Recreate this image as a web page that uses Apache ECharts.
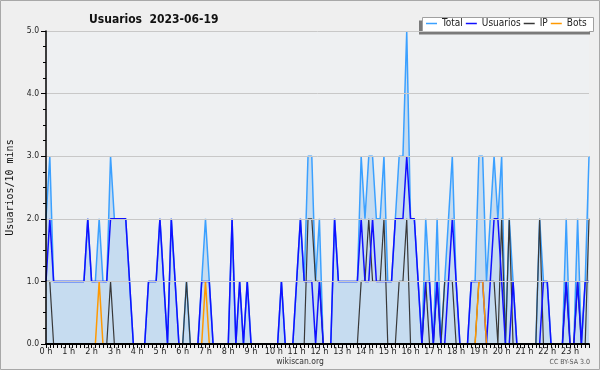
<!DOCTYPE html>
<html><head><meta charset="utf-8">
<script src="https://cdn.jsdelivr.net/npm/echarts@6.0.0/dist/echarts.min.js"></script>
<style>html,body{margin:0;padding:0;background:#efefef}#c{width:600px;height:370px}</style>
</head><body><div id="c"></div>
<script>
// 10-minute slots, 2023-06-19 (rows of 12 = 2 hours)
const hourLabels = ['0 h','1 h','2 h','3 h','4 h','5 h','6 h','7 h','8 h','9 h','10 h','11 h',
  '12 h','13 h','14 h','15 h','16 h','17 h','18 h','19 h','20 h','21 h','22 h','23 h'];
const total = [
  2,3,1,1,1,1,1,1,1,1,1,2,
  1,1,2,1,1,3,2,2,2,2,1,0,
  0,0,0,1,1,1,2,1,0,2,1,0,
  0,1,0,0,0,1,2,1,0,0,0,0,
  0,2,0,1,0,1,0,0,0,0,0,0,
  0,0,1,0,0,0,1,2,1,3,3,1,
  2,0,0,0,2,1,1,1,1,1,1,3,
  2,3,3,2,2,3,1,1,2,3,3,5,
  2,2,1,0,2,1,0,2,0,1,2,3,
  1,0,0,0,1,1,3,3,1,2,3,2,
  3,0,2,1,0,0,0,0,0,0,2,1,
  1,0,0,0,0,2,0,0,2,0,1,3];
const usuarios = [
  1,2,1,1,1,1,1,1,1,1,1,2,
  1,1,1,1,1,2,2,2,2,2,1,0,
  0,0,0,1,1,1,2,1,0,2,1,0,
  0,0,0,0,0,1,1,1,0,0,0,0,
  0,2,0,1,0,1,0,0,0,0,0,0,
  0,0,1,0,0,0,1,2,1,1,1,0,
  1,0,0,0,2,1,1,1,1,1,1,2,
  1,1,2,1,1,1,1,1,2,2,2,3,
  2,2,1,0,1,1,0,1,0,0,1,2,
  1,0,0,0,1,1,1,1,0,1,2,2,
  1,0,0,1,0,0,0,0,0,0,0,1,
  1,0,0,0,0,1,0,0,1,0,1,1];
const ip = [
  1,1,0,0,0,0,0,0,0,0,0,0,
  0,0,0,0,0,1,0,0,0,0,0,0,
  0,0,0,0,0,0,0,0,0,0,0,0,
  0,1,0,0,0,0,0,0,0,0,0,0,
  0,0,0,0,0,0,0,0,0,0,0,0,
  0,0,0,0,0,0,0,0,0,2,2,1,
  1,0,0,0,0,0,0,0,0,0,0,1,
  1,2,1,1,1,2,0,0,0,1,1,2,
  0,0,0,0,1,0,0,1,0,1,1,1,
  0,0,0,0,0,0,1,1,1,1,1,0,
  2,0,2,0,0,0,0,0,0,0,2,0,
  0,0,0,0,0,1,0,0,1,0,0,2];
const bots = [
  0,0,0,0,0,0,0,0,0,0,0,0,
  0,0,1,0,0,0,0,0,0,0,0,0,
  0,0,0,0,0,0,0,0,0,0,0,0,
  0,0,0,0,0,0,1,0,0,0,0,0,
  0,0,0,0,0,0,0,0,0,0,0,0,
  0,0,0,0,0,0,0,0,0,0,0,0,
  0,0,0,0,0,0,0,0,0,0,0,0,
  0,0,0,0,0,0,0,0,0,0,0,0,
  0,0,0,0,0,0,0,0,0,0,0,0,
  0,0,0,0,0,0,1,1,0,0,0,0,
  0,0,0,0,0,0,0,0,0,0,0,0,
  0,0,0,0,0,0,0,0,0,0,0,0];

const categories = [];
for (let h = 0; h < 24; h++) for (let m = 0; m < 60; m += 10)
  categories.push(String(h).padStart(2,'0') + ':' + String(m).padStart(2,'0'));

const F = '"DejaVu Sans Condensed","DejaVu Sans",sans-serif';
const chart = echarts.init(document.getElementById('c'), null, {renderer:'canvas'});
const lineSeries = (name, data, color, width, extra) => Object.assign({
  name, type:'line', data, showSymbol:false, symbol:'none',
  lineStyle:{color, width}, itemStyle:{color}, emphasis:{disabled:true}
}, extra || {});

chart.setOption({
  animation:false,
  backgroundColor:'#efefef',
  title:{text:'Usuarios  2023-06-19', left:84, top:9,
    textStyle:{fontFamily:F, fontWeight:'bold', fontSize:12, color:'#111'}},
  legend:{
    data:['Total','Usuarios','IP','Bots'],
    left:426, top:18.5, padding:0, itemGap:3, itemWidth:11, itemHeight:1.5,
    icon:'rect', selectedMode:false,
    textStyle:{fontFamily:F, fontSize:10, color:'#222', padding:[0,0,0,0]}
  },
  graphic:[
    {type:'rect', shape:{x:0.5,y:0.5,width:599,height:369}, style:{fill:'none', stroke:'#a8a8a8', lineWidth:1}, z:-1},
    {type:'rect', shape:{x:419,y:20.5,width:171,height:14}, style:{fill:'#7a7a7a'}, z:0},
    {type:'rect', shape:{x:422.5,y:17.5,width:171,height:14}, style:{fill:'#ffffff', stroke:'#a0a0a0', lineWidth:1}, z:0},
    {type:'text', left:'center', top:357, style:{text:'wikiscan.org', fontFamily:F, fontSize:8.5, fill:'#333'}},
    {type:'text', right:10, top:359, style:{text:'CC BY-SA 3.0', fontFamily:F, fontSize:7, fill:'#555'}}
  ],
  grid:{left:46, right:11, top:31, bottom:26, show:true, backgroundColor:'#eef0f2', borderWidth:0,
    outerBoundsMode:'none', containLabel:false},
  xAxis:{
    type:'category', data:categories, boundaryGap:false, z:5,
    axisLine:{lineStyle:{color:'#000', width:2}},
    axisTick:{show:true, interval:0, length:4, lineStyle:{color:'#000', width:1}},
    axisLabel:{interval:(i)=> i % 6 === 0, formatter:(v,i)=> hourLabels[Math.floor(i/6)],
      margin:3, fontFamily:F, fontSize:9, color:'#222'},
    splitLine:{show:false}
  },
  yAxis:{
    type:'value', min:0, max:5, interval:1, z:5,
    name:'Usuarios/10 mins', nameLocation:'middle', nameGap:31,
    nameTextStyle:{fontFamily:'"DejaVu Sans Mono",monospace', fontSize:10, color:'#111'},
    axisLine:{show:true, lineStyle:{color:'#000', width:1.5}},
    axisTick:{show:true, length:5, lineStyle:{color:'#000'}},
    minorTick:{show:true, splitNumber:4, length:3, lineStyle:{color:'#000'}},
    splitLine:{show:true, lineStyle:{color:'#c8c8c8', width:1}},
    axisLabel:{formatter:(v)=> v.toFixed(1), margin:7, fontFamily:F, fontSize:8.5, color:'#222'}
  },
  series:[
    lineSeries('Total', total, '#3ba0ff', 1.5, {areaStyle:{color:'#c6dcf0', opacity:1}, z:2}),
    lineSeries('IP', ip, '#383838', 1.2, {z:3}),
    lineSeries('Usuarios', usuarios, '#1010ff', 1.5, {z:4}),
    lineSeries('Bots', bots, '#ff9900', 1.5, {z:4})
  ]
});
</script></body></html>
